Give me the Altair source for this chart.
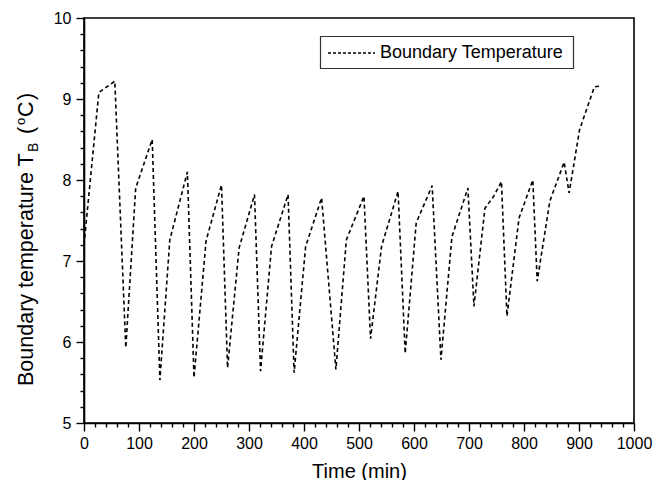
import altair as alt
import pandas as pd

# Time (min) and boundary temperature (°C)
time_min = [0, 27, 56, 76, 94, 124, 138, 156, 188, 200, 222, 250, 261, 282, 310,
            321, 341, 371, 382, 403, 432, 458, 477, 509, 521, 541, 571, 584, 604,
            633, 649, 669, 698, 709, 729, 745, 759, 769, 791, 816, 824, 847, 873,
            882, 901, 928, 940]
temp_c = [7.2, 9.08, 9.22, 5.93, 7.9, 8.5, 5.53, 7.26, 8.1, 5.56, 7.25, 7.94, 5.68,
          7.16, 7.82, 5.64, 7.18, 7.82, 5.62, 7.18, 7.78, 5.66, 7.26, 7.8, 6.04,
          7.18, 7.86, 5.86, 7.47, 7.93, 5.78, 7.3, 7.9, 6.44, 7.65, 7.8, 7.98,
          6.32, 7.53, 8.0, 6.75, 7.74, 8.22, 7.84, 8.62, 9.15, 9.16]
series_name = "Boundary Temperature"

x_ticks = list(range(0, 1001, 20))
y_ticks = [round(5 + 0.2 * i, 1) for i in range(26)]

FONT = "Liberation Sans"

df = pd.DataFrame({"t": time_min, "T": temp_c, "s": series_name})

line = alt.Chart(df).mark_line(strokeDash=[4, 3], strokeWidth=1.6, color="black").encode(
    x=alt.X("t:Q", scale=alt.Scale(domain=[0, 1000], nice=False),
            axis=alt.Axis(values=x_ticks, title="Time (min)",
                          labelExpr="datum.value % 100 === 0 ? format(datum.value, 'd') : ''",
                          tickSize={"condition": {"test": "datum.value % 100 === 0", "value": 8}, "value": 4},
                          labelFlush=False, labelBound=False, labelOverlap=False,
                          labelPadding=4, titlePadding=10, titleFontSize=20)),
    y=alt.Y("T:Q", scale=alt.Scale(domain=[5, 10], nice=False, zero=False),
            axis=alt.Axis(values=y_ticks, title=None,
                          labelExpr="abs(datum.value - round(datum.value)) < 0.001 ? format(datum.value, 'd') : ''",
                          tickSize={"condition": {"test": "abs(datum.value - round(datum.value)) < 0.001", "value": 8}, "value": 4},
                          labelFlush=False, labelBound=False, labelOverlap=False,
                          labelPadding=5)),
)

# legend box (drawn by hand so the sample line can be long and the box short)
leg_df = pd.DataFrame({"txt": [series_name]})
leg_box = alt.Chart(leg_df).mark_rect(fill="white", stroke="#333", strokeWidth=1.2).encode(
    x=alt.value(236.5), x2=alt.value(489.5), y=alt.value(18.5), y2=alt.value(50.5))
leg_line = alt.Chart(leg_df).mark_rule(color="black", strokeDash=[3, 2], strokeWidth=1.5).encode(
    x=alt.value(244), x2=alt.value(291), y=alt.value(35))
leg_text = alt.Chart(leg_df).mark_text(align="left", baseline="middle", fontSize=18,
                                       font=FONT, color="black").encode(
    x=alt.value(296), y=alt.value(35), text="txt:N")


def ytitle_piece(txt, x, y, size):
    return alt.Chart(pd.DataFrame({"txt": [txt]})).mark_text(
        angle=270, align="left", baseline="alphabetic", fontSize=size, font=FONT, color="black"
    ).encode(x=alt.value(x), y=alt.value(y), text="txt:N")


# y-axis title: Boundary temperature T_B (°C) with sub/superscripts
title_parts = [
    ytitle_piece("Boundary temperature T", -51, 368, 21.5),
    ytitle_piece("B", -46.5, 134, 14),
    ytitle_piece("(", -51, 116, 21.5),
    ytitle_piece("o", -59.5, 107, 13),
    ytitle_piece("C", -51, 99, 21.5),
    ytitle_piece(")", -51, 82, 21.5),
]

chart = alt.layer(line, leg_box, leg_line, leg_text, *title_parts).properties(
    width=550, height=405,
    autosize=alt.AutoSizeParams(type="none"),
    padding={"left": 76, "top": 10, "right": 22, "bottom": 57},
).configure_view(stroke="black", strokeWidth=1.6).configure_axis(
    domainColor="black", domainWidth=1.6, tickColor="black", tickWidth=1.4,
    labelColor="black", labelFont=FONT, labelFontSize=16, titleFont=FONT,
    titleColor="black", titleFontWeight="normal", grid=False,
)

chart.save("out.html", embed_options={"renderer": "svg", "actions": False})
